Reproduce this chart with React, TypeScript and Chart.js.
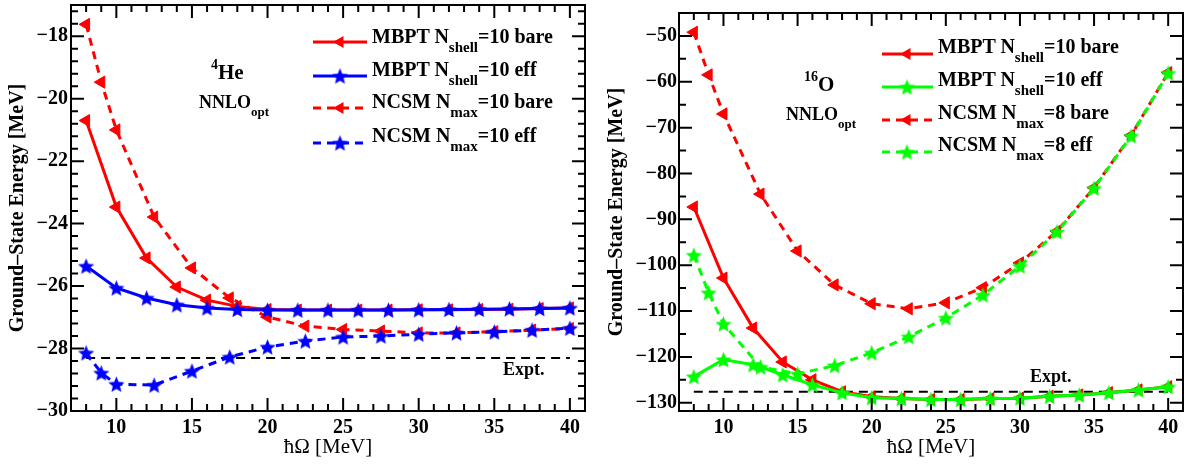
import React, { useEffect, useRef } from 'react';
import { Chart, registerables } from 'chart.js';

Chart.register(...registerables);

const SERIF = "'Liberation Serif', 'Times New Roman', serif";

// ---------------- 4He panel data ----------------
const heMbptHw = [8, 10, 12, 14, 16, 18, 20, 22, 24, 26, 28, 30, 32, 34, 36, 38, 40];
const heMbptBare = [-20.7, -23.47, -25.1, -26.03, -26.45, -26.65, -26.75, -26.77, -26.77, -26.77, -26.77, -26.76, -26.76, -26.75, -26.74, -26.72, -26.7];
const heMbptEff = [-25.36, -26.06, -26.38, -26.6, -26.7, -26.75, -26.77, -26.77, -26.77, -26.77, -26.77, -26.76, -26.75, -26.74, -26.73, -26.72, -26.7];
const heNcsmHw = [8, 9, 10, 12.5, 15, 17.5, 20, 22.5, 25, 27.5, 30, 32.5, 35, 37.5, 40];
const heNcsmBare = [-17.62, -19.47, -21.0, -23.79, -25.42, -26.38, -26.99, -27.28, -27.39, -27.44, -27.5, -27.5, -27.46, -27.41, -27.36];
const heNcsmEff = [-28.14, -28.78, -29.14, -29.17, -28.72, -28.27, -27.95, -27.76, -27.63, -27.6, -27.54, -27.5, -27.47, -27.41, -27.35];
const heExptHw = [8, 40];
const heExpt = [-28.3, -28.3];
const heYTicks = [-30, -28, -26, -24, -22, -20, -18];

// ---------------- 16O panel data ----------------
const oMbptHw = [8, 10, 12, 14, 16, 18, 20, 22, 24, 26, 28, 30, 32, 34, 36, 38, 40];
const oMbptBare = [-87.3, -102.8, -113.7, -121.1, -125.0, -127.6, -128.7, -129.1, -129.3, -129.3, -129.1, -129.0, -128.6, -128.3, -127.8, -127.2, -126.5];
const oMbptEff = [-124.3, -120.6, -121.7, -123.9, -126.1, -127.8, -128.9, -129.1, -129.3, -129.3, -129.1, -129.0, -128.6, -128.3, -127.8, -127.2, -126.5];
const oNcsmHw = [8, 9, 10, 12.5, 15, 17.5, 20, 22.5, 25, 27.5, 30, 32.5, 35, 37.5, 40];
const oNcsmBare = [-49.2, -58.5, -67.0, -84.5, -96.9, -104.3, -108.4, -109.5, -108.2, -104.9, -99.5, -92.6, -83.1, -71.7, -58.0];
const oNcsmEff = [-97.8, -106.0, -112.8, -122.2, -123.7, -121.9, -119.1, -115.6, -111.5, -106.5, -100.2, -92.7, -83.2, -71.8, -58.1];
const oExptHw = [8, 40];
const oExpt = [-127.6, -127.6];
const oYTicks = [-130, -120, -110, -100, -90, -80, -70, -60, -50];

const xTickLabels = [10, 15, 20, 25, 30, 35, 40];

const RED = '#ff0000';
const BLUE = '#0000ff';
const GREEN = '#00ff00';
const DASH = [8, 6];

function makeStar(color: string, R = 8.5) {
  const size = Math.ceil(R * 2 + 2);
  const c = document.createElement('canvas');
  c.width = size;
  c.height = size;
  const g = c.getContext('2d')!;
  const cx = size / 2;
  const cy = size / 2 + R * 0.1;
  const r = R * 0.45;
  g.beginPath();
  for (let i = 0; i < 10; i++) {
    const rad = i % 2 === 0 ? R : r;
    const a = -Math.PI / 2 + (i * Math.PI) / 5;
    g.lineTo(cx + rad * Math.cos(a), cy + rad * Math.sin(a));
  }
  g.closePath();
  g.fillStyle = color;
  g.fill();
  return c;
}

function pts(xs: number[], ys: number[]) {
  return xs.map((x, i) => ({ x, y: ys[i] }));
}

function triSet(label: string, xs: number[], ys: number[], color: string, dashed: boolean, order: number) {
  return {
    label,
    data: pts(xs, ys),
    borderColor: color,
    backgroundColor: color,
    borderWidth: 3,
    borderDash: dashed ? DASH : [],
    pointStyle: 'triangle',
    pointRotation: -90,
    pointRadius: 7,
    pointBackgroundColor: color,
    pointBorderColor: color,
    pointBorderWidth: 1,
    tension: 0,
    order,
  };
}

function starSet(label: string, xs: number[], ys: number[], color: string, dashed: boolean, order: number, star: HTMLCanvasElement) {
  return {
    label,
    data: pts(xs, ys),
    borderColor: color,
    backgroundColor: color,
    borderWidth: 3,
    borderDash: dashed ? DASH : [],
    pointStyle: star,
    pointRadius: 8,
    pointBackgroundColor: color,
    pointBorderColor: color,
    tension: 0,
    order,
  };
}

function exptSet(xs: number[], ys: number[]) {
  return {
    label: 'Expt.',
    data: pts(xs, ys),
    borderColor: '#000',
    borderWidth: 2,
    borderDash: [9, 6],
    pointRadius: 0,
    tension: 0,
    order: 10,
  };
}

const decoPlugin = {
  id: 'deco',
  afterDraw(chart: any, _args: any, opts: any) {
    const { ctx, chartArea: a, scales } = chart;
    const xs = scales.x;
    const ys = scales.y;
    ctx.save();
    ctx.strokeStyle = '#000';
    ctx.lineWidth = 2;
    ctx.setLineDash([]);
    ctx.beginPath();
    const xt = (v: number, len: number) => {
      const p = xs.getPixelForValue(v);
      ctx.moveTo(p, a.bottom);
      ctx.lineTo(p, a.bottom - len);
      ctx.moveTo(p, a.top);
      ctx.lineTo(p, a.top + len);
    };
    const yt = (v: number, len: number) => {
      const p = ys.getPixelForValue(v);
      ctx.moveTo(a.left, p);
      ctx.lineTo(a.left + len, p);
      ctx.moveTo(a.right, p);
      ctx.lineTo(a.right - len, p);
    };
    opts.xMajor.forEach((v: number) => xt(v, 13));
    opts.xMinor.forEach((v: number) => xt(v, 7));
    opts.yMajor.forEach((v: number) => yt(v, 13));
    opts.yMinor.forEach((v: number) => yt(v, 7));
    ctx.stroke();
    ctx.strokeRect(a.left, a.top, a.right - a.left, a.bottom - a.top);

    // legend samples
    opts.rows.forEach((r: any) => {
      const ds = chart.data.datasets[r.ds];
      ctx.strokeStyle = ds.borderColor;
      ctx.lineWidth = ds.borderWidth;
      ctx.setLineDash(ds.borderDash || []);
      ctx.beginPath();
      ctx.moveTo(opts.x1, r.y);
      ctx.lineTo(opts.x2, r.y);
      ctx.stroke();
      ctx.setLineDash([]);
      const mx = opts.mx;
      if (ds.pointStyle === 'triangle') {
        const rr = ds.pointRadius;
        let ang = (ds.pointRotation * Math.PI) / 180;
        ctx.beginPath();
        for (let k = 0; k < 3; k++) {
          ctx.lineTo(mx + Math.sin(ang) * rr, r.y - Math.cos(ang) * rr);
          ang += (2 * Math.PI) / 3;
        }
        ctx.closePath();
        ctx.fillStyle = ds.pointBackgroundColor;
        ctx.fill();
      } else if (ds.pointStyle && typeof ds.pointStyle === 'object') {
        const im = ds.pointStyle;
        ctx.drawImage(im, mx - im.width / 2, r.y - im.height / 2);
      }
    });
    ctx.restore();
  },
};

function buildChart(canvas: HTMLCanvasElement, cfg: any) {
  const tickFont = { family: SERIF, size: 20, weight: 'bold' as const };
  const fmt = (v: number) => (v < 0 ? '\u2212' + Math.abs(v) : String(v));
  return new Chart(canvas, {
    type: 'line',
    data: { datasets: cfg.datasets },
    options: {
      responsive: false,
      animation: false,
      devicePixelRatio: 1,
      events: [],
      layout: { padding: cfg.padding, autoPadding: false },
      plugins: {
        legend: { display: false },
        tooltip: { enabled: false },
        deco: cfg.deco,
      } as any,
      scales: {
        x: {
          type: 'linear',
          position: 'bottom',
          min: 7,
          max: 41,
          grid: { display: false, drawTicks: false },
          border: { display: false },
          ticks: { font: tickFont, color: '#000', padding: 5, maxRotation: 0, autoSkip: false, callback: (v: any) => fmt(Number(v)) },
          afterBuildTicks: (s: any) => {
            s.ticks = xTickLabels.map((v) => ({ value: v }));
          },
          afterFit: (s: any) => {
            s.height = 54;
            s.paddingLeft = 0;
            s.paddingRight = 0;
          },
          title: {
            display: true,
            text: '\u0127\u03A9 [MeV]',
            font: { family: SERIF, size: 21 },
            color: '#000',
            padding: { top: 0, bottom: 5 },
          },
        },
        y: {
          type: 'linear',
          min: cfg.ymin,
          max: cfg.ymax,
          grid: { display: false, drawTicks: false },
          border: { display: false },
          ticks: { font: tickFont, color: '#000', padding: cfg.yTickPad, autoSkip: false, callback: (v: any) => fmt(Number(v)) },
          afterBuildTicks: (s: any) => {
            s.ticks = cfg.yTicks.map((v: number) => ({ value: v }));
          },
          afterFit: (s: any) => {
            s.width = cfg.yWidth;
            s.paddingTop = 0;
            s.paddingBottom = 0;
          },
          title: {
            display: true,
            text: 'Ground\u2013State Energy [MeV]',
            font: { family: SERIF, size: 20, weight: 'bold' },
            color: '#000',
            padding: { top: cfg.yTitlePad, bottom: 0 },
          },
        },
      },
    } as any,
    plugins: [decoPlugin as any],
  });
}

function range(a: number, b: number, step: number) {
  const out: number[] = [];
  for (let v = a; v <= b + 1e-9; v += step) out.push(Math.round(v * 1000) / 1000);
  return out;
}

const Txt = ({ x, base, size, children }: any) => (
  <div
    style={{
      position: 'absolute',
      left: x,
      top: base - 0.8375 * size,
      fontFamily: SERIF,
      fontSize: size,
      fontWeight: 'bold',
      lineHeight: `${size}px`,
      whiteSpace: 'nowrap',
      color: '#000',
    }}
  >
    {children}
  </div>
);

const Shift = ({ size, dy, children }: any) => (
  <span style={{ fontSize: size, position: 'relative', top: dy }}>{children}</span>
);

export default function App() {
  const leftRef = useRef<HTMLCanvasElement>(null);
  const rightRef = useRef<HTMLCanvasElement>(null);

  useEffect(() => {
    const blueStar = makeStar(BLUE);
    const greenStar = makeStar(GREEN);
    const xMinor = range(8, 40, 1).filter((v) => v % 5 !== 0);

    const left = buildChart(leftRef.current!, {
      datasets: [
        exptSet(heExptHw, heExpt),
        triSet('MBPT Nshell=10 bare', heMbptHw, heMbptBare, RED, false, 5),
        starSet('MBPT Nshell=10 eff', heMbptHw, heMbptEff, BLUE, false, 3, blueStar),
        triSet('NCSM Nmax=10 bare', heNcsmHw, heNcsmBare, RED, true, 4),
        starSet('NCSM Nmax=10 eff', heNcsmHw, heNcsmEff, BLUE, true, 2, blueStar),
      ],
      padding: { left: 0, top: 5, right: 9, bottom: 0 },
      ymin: -30,
      ymax: -17,
      yTicks: heYTicks,
      yWidth: 71,
      yTickPad: 3,
      yTitlePad: 6,
      deco: {
        xMajor: xTickLabels,
        xMinor,
        yMajor: heYTicks,
        yMinor: range(-30, -17, 0.4).filter((v) => Math.abs(v / 2 - Math.round(v / 2)) > 1e-6),
        x1: 313,
        x2: 367,
        mx: 340,
        rows: [
          { y: 42, ds: 1 },
          { y: 76, ds: 2 },
          { y: 108, ds: 3 },
          { y: 143, ds: 4 },
        ],
      },
    });

    const right = buildChart(rightRef.current!, {
      datasets: [
        exptSet(oExptHw, oExpt),
        triSet('MBPT Nshell=10 bare', oMbptHw, oMbptBare, RED, false, 5),
        starSet('MBPT Nshell=10 eff', oMbptHw, oMbptEff, GREEN, false, 3, greenStar),
        triSet('NCSM Nmax=8 bare', oNcsmHw, oNcsmBare, RED, true, 4),
        starSet('NCSM Nmax=8 eff', oNcsmHw, oNcsmEff, GREEN, true, 2, greenStar),
      ],
      padding: { left: 0, top: 13, right: 5, bottom: 0 },
      ymin: -131.8,
      ymax: -45,
      yTicks: oYTicks,
      yWidth: 85,
      yTickPad: 2,
      yTitlePad: 11,
      deco: {
        xMajor: xTickLabels,
        xMinor,
        yMajor: oYTicks,
        yMinor: range(-125, -55, 10),
        x1: 288,
        x2: 339,
        mx: 313,
        rows: [
          { y: 54, ds: 1 },
          { y: 87, ds: 2 },
          { y: 120, ds: 3 },
          { y: 152, ds: 4 },
        ],
      },
    });

    return () => {
      left.destroy();
      right.destroy();
    };
  }, []);

  return (
    <div style={{ position: 'absolute', left: 0, top: 0, width: 1188, height: 465, background: '#fff', overflow: 'hidden' }}>
      <canvas ref={leftRef} width={594} height={465} style={{ position: 'absolute', left: 0, top: 0, display: 'block' }} />
      <canvas ref={rightRef} width={594} height={465} style={{ position: 'absolute', left: 594, top: 0, display: 'block' }} />

      {/* 4He panel texts */}
      <Txt x={372} base={43} size={20}>MBPT N<Shift size={15} dy={9}>shell</Shift>=10 bare</Txt>
      <Txt x={372} base={76} size={20}>MBPT N<Shift size={15} dy={9}>shell</Shift>=10 eff</Txt>
      <Txt x={372} base={108} size={20}>NCSM N<Shift size={15} dy={9}>max</Shift>=10 bare</Txt>
      <Txt x={372} base={142} size={20}>NCSM N<Shift size={15} dy={9}>max</Shift>=10 eff</Txt>
      <Txt x={211} base={80} size={21}><Shift size={14} dy={-10}>4</Shift>He</Txt>
      <Txt x={199} base={108} size={18}>NNLO<Shift size={13} dy={8}>opt</Shift></Txt>
      <Txt x={503} base={375} size={18}>Expt.</Txt>

      {/* 16O panel texts */}
      <Txt x={938} base={53} size={20}>MBPT N<Shift size={15} dy={9}>shell</Shift>=10 bare</Txt>
      <Txt x={938} base={86} size={20}>MBPT N<Shift size={15} dy={9}>shell</Shift>=10 eff</Txt>
      <Txt x={938} base={119} size={20}>NCSM N<Shift size={15} dy={9}>max</Shift>=8 bare</Txt>
      <Txt x={938} base={151} size={20}>NCSM N<Shift size={15} dy={9}>max</Shift>=8 eff</Txt>
      <Txt x={804} base={92} size={21}><Shift size={14} dy={-10}>16</Shift>O</Txt>
      <Txt x={786} base={120} size={18}>NNLO<Shift size={13} dy={8}>opt</Shift></Txt>
      <Txt x={1030} base={382} size={18}>Expt.</Txt>
    </div>
  );
}
